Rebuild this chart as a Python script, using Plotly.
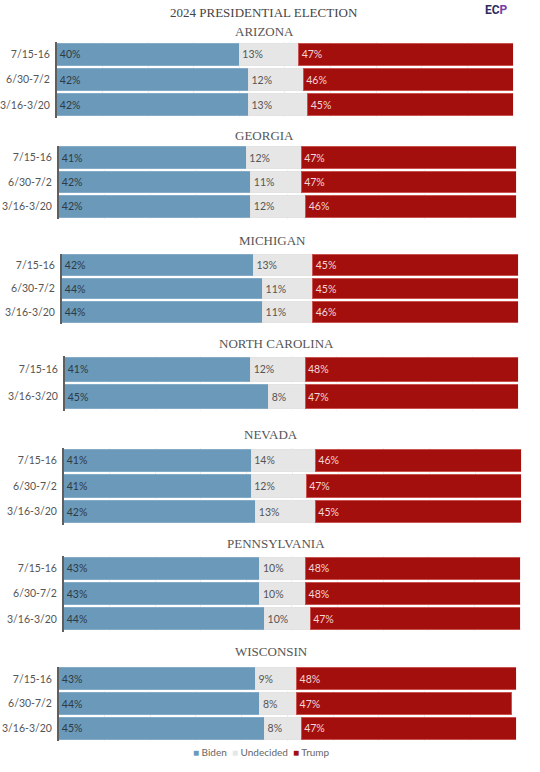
import plotly.graph_objects as go

# ---------------- data ----------------
states = ["ARIZONA", "GEORGIA", "MICHIGAN", "NORTH CAROLINA", "NEVADA", "PENNSYLVANIA", "WISCONSIN"]
dates = [
    ["7/15-16", "6/30-7/2", "3/16-3/20"],
    ["7/15-16", "6/30-7/2", "3/16-3/20"],
    ["7/15-16", "6/30-7/2", "3/16-3/20"],
    ["7/15-16", "3/16-3/20"],
    ["7/15-16", "6/30-7/2", "3/16-3/20"],
    ["7/15-16", "6/30-7/2", "3/16-3/20"],
    ["7/15-16", "6/30-7/2", "3/16-3/20"],
]
biden = [[40, 42, 42], [41, 42, 42], [42, 44, 44], [41, 45], [41, 41, 42], [43, 43, 44], [43, 44, 45]]
undecided = [[13, 12, 13], [12, 11, 12], [13, 11, 11], [12, 8], [14, 12, 13], [10, 10, 10], [9, 8, 8]]
trump = [[47, 46, 45], [47, 47, 46], [45, 45, 46], [48, 47], [46, 47, 45], [48, 48, 47], [48, 47, 47]]
series_names = ["Biden", "Undecided", "Trump"]

# ---------------- style ----------------
W, H = 540, 772
fill = ["#6a99ba", "#e6e6e6", "#a30f0c"]
edge = ["#86abc6", "#e3e3e3", "#c85350"]
txt = ["#2e3a44", "#555555", "#f3d6d6"]

# panel geometry in pixels: (x0, x1, y_top, y_bottom, title_x, title_y)
panels = [
    (55, 513, 41.5, 117.5, 263, 31),
    (57, 516, 145.5, 218.5, 263, 136),
    (60, 518, 253.5, 323.5, 272, 240),
    (63, 518, 355.5, 410.5, 276, 343),
    (62, 521, 447.5, 524.5, 270, 434),
    (62, 520, 555.5, 631.5, 275, 543),
    (57, 516, 666.5, 740.5, 270, 651),
]

fig = go.Figure()
annotations = []
layout = dict(
    width=W, height=H, autosize=False,
    margin=dict(l=0, r=0, t=0, b=0),
    paper_bgcolor="white", plot_bgcolor="white",
    barmode="stack", bargap=0.12, showlegend=False,
)

for i, st in enumerate(states):
    n = i + 1
    xa = "x" if n == 1 else f"x{n}"
    ya = "y" if n == 1 else f"y{n}"
    vals = [biden[i], undecided[i], trump[i]]
    for k in range(3):
        fig.add_trace(go.Bar(
            x=vals[k], y=dates[i], orientation="h", name=series_names[k],
            xaxis=xa, yaxis=ya,
            marker=dict(color=fill[k], line=dict(color=edge[k], width=1)),
            texttemplate="%{x}%", textposition="inside", insidetextanchor="start",
            textangle=0, constraintext="none",
            textfont=dict(family="Lato, Open Sans, sans-serif", size=10.5, color=txt[k]),
            hoverinfo="skip", showlegend=False,
        ))
    x0, x1, yt, yb, tx, ty = panels[i]
    layout["xaxis" if n == 1 else f"xaxis{n}"] = dict(
        domain=[x0 / W, x1 / W], range=[0, 100], anchor=ya,
        showticklabels=False, showgrid=True, gridcolor="#efefef", griddash="dot",
        dtick=10, zeroline=False, showline=False, fixedrange=True,
    )
    layout["yaxis" if n == 1 else f"yaxis{n}"] = dict(
        domain=[1 - yb / H, 1 - yt / H], anchor=xa,
        type="category", categoryorder="array", categoryarray=dates[i][::-1],
        showline=True, linecolor="#5f5f5f", linewidth=1.5, ticks="",
        ticklabelstandoff=3, showgrid=False, zeroline=False, fixedrange=True,
        tickfont=dict(family="Lato, Open Sans, sans-serif", size=10.5, color="#555555"),
    )
    annotations.append(dict(
        text=st, x=tx / W, y=1 - ty / H, xref="paper", yref="paper",
        xanchor="center", yanchor="middle", showarrow=False,
        font=dict(family="Liberation Serif, DejaVu Serif, serif", size=13, color="#555555"),
    ))

# main title
annotations.append(dict(
    text="2024 PRESIDENTIAL ELECTION", x=263 / W, y=1 - 13 / H, xref="paper", yref="paper",
    xanchor="center", yanchor="middle", showarrow=False,
    font=dict(family="Liberation Serif, DejaVu Serif, serif", size=13, color="#444444"),
))
# logo
annotations.append(dict(
    text="<b>EC</b><b style='color:#7a3fa6'>P</b>", x=496 / W, y=1 - 10 / H,
    xref="paper", yref="paper", xanchor="center", yanchor="middle", showarrow=False,
    font=dict(family="Roboto, sans-serif", size=12, color="#2b2d5e"),
))
# legend
leg = "  ".join(
    f"<span style='color:{fill[k]}'>■</span> {series_names[k]}" for k in range(3)
)
annotations.append(dict(
    text=leg, x=260 / W, y=1 - 752 / H, xref="paper", yref="paper",
    xanchor="center", yanchor="middle", showarrow=False,
    font=dict(family="Lato, Open Sans, sans-serif", size=10, color="#666666"),
))

layout["annotations"] = annotations
fig.update_layout(**layout)
fig.write_html("out.html", config={"displayModeBar": False},
               post_script="document.body.style.margin='0';")
